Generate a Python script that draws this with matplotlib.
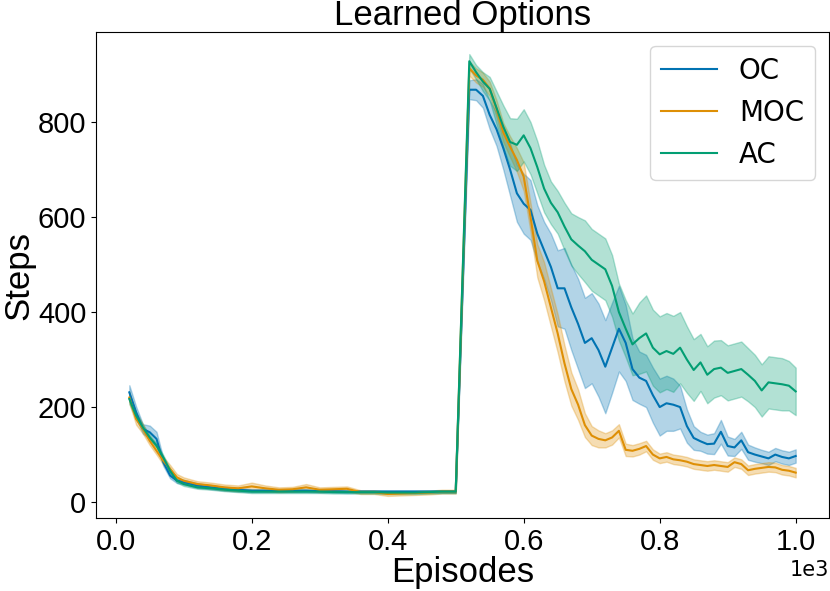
import numpy as np
import matplotlib
matplotlib.use("Agg")
import matplotlib.pyplot as plt

plt.rcParams['font.family'] = ['Liberation Sans', 'DejaVu Sans']

# episode positions of the smoothed curves
episodes = np.concatenate([np.arange(20, 101, 10), np.arange(120, 481, 20), [500],
                           np.arange(520, 1001, 10)])

# mean steps per series
oc_mean = [231, 189, 154, 147, 133, 84, 56, 45, 42,
           35, 31, 28, 26, 24, 24, 24, 24, 24, 23, 23, 22, 22, 22, 22, 22, 22, 22, 22,
           22,
           868, 868, 855, 815, 785, 745, 700, 650, 628, 615,
           565, 530, 495, 450, 450, 410, 375, 335, 345, 320,
           285, 325, 365, 335, 280, 262, 255, 225, 200, 208,
           205, 200, 160, 135, 128, 122, 123, 148, 118, 115,
           130, 105, 100, 96, 92, 100, 95, 92, 97]
moc_mean = [220, 175, 154, 129, 108, 87, 70, 52, 45,
            38, 35, 31, 29, 33, 29, 26, 27, 31, 26, 27, 28, 21, 21, 17, 18, 19, 20, 22,
            22,
            913, 898, 889, 870, 828, 778, 748, 720, 685, 600,
            508, 465, 410, 355, 292, 238, 205, 162, 140, 133,
            130, 136, 150, 110, 108, 112, 118, 100, 92, 95,
            90, 88, 85, 80, 78, 76, 78, 76, 74, 84,
            80, 67, 70, 72, 74, 73, 68, 66, 62]
ac_mean = [217, 182, 157, 136, 119, 94, 66, 45, 38,
           31, 29, 26, 24, 22, 22, 22, 22, 22, 22, 21, 21, 21, 21, 20, 20, 20, 21, 22,
           22,
           928, 905, 885, 870, 830, 790, 758, 752, 772, 745,
           705, 660, 630, 610, 580, 553, 540, 528, 510, 500,
           490, 455, 400, 365, 332, 345, 355, 325, 311, 318,
           312, 325, 300, 278, 294, 268, 280, 283, 272, 276,
           280, 268, 255, 235, 252, 250, 248, 245, 233]

# half width of the shaded band
oc_err = [15, 12, 10, 14, 15, 8, 6, 5, 5,
          5, 4, 4, 4, 3, 3, 3, 3, 3, 3, 3, 3, 3, 3, 3, 3, 3, 3, 3,
          3,
          20, 22, 25, 30, 35, 45, 55, 60, 63, 63,
          60, 60, 70, 80, 85, 90, 95, 95, 95, 98,
          98, 95, 90, 80, 65, 55, 55, 58, 60, 58,
          55, 45, 35, 25, 20, 20, 22, 25, 20, 18,
          18, 16, 15, 14, 14, 14, 14, 14, 14]
moc_err = [12, 12, 10, 9, 8, 8, 8, 7, 7,
           6, 6, 6, 6, 8, 6, 5, 5, 7, 5, 5, 5, 4, 4, 4, 4, 4, 4, 4,
           4,
           15, 15, 15, 15, 18, 20, 22, 25, 30, 30,
           35, 40, 40, 40, 38, 35, 32, 25, 20, 18,
           15, 15, 14, 13, 12, 12, 11, 11, 10, 10,
           10, 10, 10, 10, 10, 10, 10, 10, 10, 10,
           10, 10, 10, 10, 10, 10, 10, 10, 10]
ac_err = [10, 8, 6, 5, 5, 5, 4, 4, 4,
          3, 3, 3, 3, 3, 3, 3, 3, 3, 3, 3, 3, 3, 3, 3, 3, 3, 3, 3,
          3,
          15, 15, 20, 25, 35, 45, 50, 55, 55, 55,
          55, 50, 45, 45, 50, 55, 60, 65, 65, 65,
          65, 65, 60, 60, 65, 75, 80, 80, 80, 80,
          80, 75, 70, 65, 60, 60, 60, 58, 58, 58,
          58, 56, 55, 55, 55, 55, 55, 52, 50]

labels = ['OC', 'MOC', 'AC']
colors = ['#0173b2', '#de8f05', '#029e73']

fig = plt.figure(figsize=(8.3, 5.91), dpi=100)
ax = fig.add_axes([96 / 830, 73 / 591, 733 / 830, 486 / 591])

for mean, err, lab, col in zip([oc_mean, moc_mean, ac_mean],
                               [oc_err, moc_err, ac_err], labels, colors):
    mean = np.array(mean, dtype=float)
    err = np.array(err, dtype=float)
    ax.plot(episodes, mean, color=col, lw=1.5, label=lab)
    ax.fill_between(episodes, mean - err, mean + err, color=col, alpha=0.3)

ax.ticklabel_format(axis='x', style='sci', scilimits=(0, 0))
ax.xaxis.get_offset_text().set_fontsize(15)
ax.xaxis.get_offset_text().set_family('DejaVu Sans')
ax.tick_params(labelsize=21)
ax.set_xlabel('Episodes', fontsize=25, labelpad=0)
ax.set_ylabel('Steps', fontsize=25, labelpad=2)
ax.set_title('Learned Options', fontsize=25, pad=4)
ax.legend(loc='upper right', prop={'family': 'DejaVu Sans', 'size': 20},
          labelspacing=0.5)

fig.savefig('out.png', dpi=100)
